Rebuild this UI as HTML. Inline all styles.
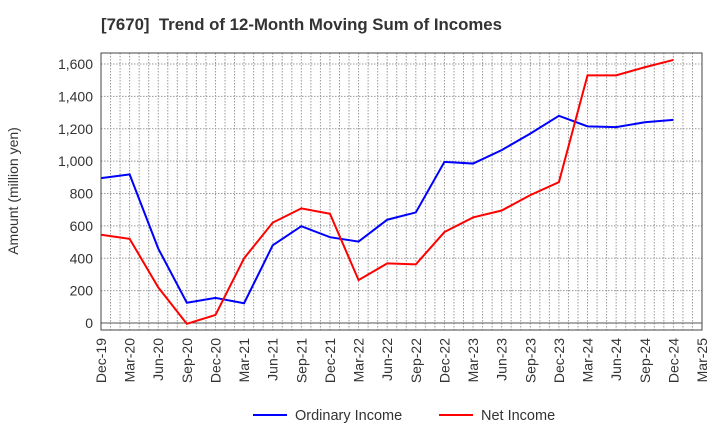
<!DOCTYPE html>
<html><head><meta charset="utf-8"><style>
body{margin:0;background:#fff;font-family:"Liberation Sans",sans-serif}
</style></head><body>
<svg id="c" width="720" height="440" xmlns="http://www.w3.org/2000/svg" font-family="Liberation Sans, sans-serif">
<text x="101" y="30" font-size="16.8" font-weight="bold" fill="#333">[7670]&#160; Trend of 12-Month Moving Sum of Incomes</text>
<text transform="translate(18,191) rotate(-90)" text-anchor="middle" font-size="14" fill="#333">Amount (million yen)</text>
<g id="grid"></g><g id="series"></g><g id="axes"></g>
<g>
<line x1="253" y1="415" x2="287" y2="415" stroke="#0000ff" stroke-width="2"/>
<text x="295" y="420" font-size="14.5" fill="#333">Ordinary Income</text>
<line x1="439" y1="415" x2="473" y2="415" stroke="#ff0000" stroke-width="2"/>
<text x="481" y="420" font-size="14.5" fill="#333">Net Income</text>
</g>
</svg>
<script>
const categories=["Dec-19","Mar-20","Jun-20","Sep-20","Dec-20","Mar-21","Jun-21","Sep-21","Dec-21","Mar-22","Jun-22","Sep-22","Dec-22","Mar-23","Jun-23","Sep-23","Dec-23","Mar-24","Jun-24","Sep-24","Dec-24","Mar-25"];
const ordinaryIncome=[895,918,460,125,155,122,480,598,530,503,638,683,995,985,1068,1170,1280,1215,1210,1240,1255];
const netIncome=[545,520,220,-5,50,400,620,708,675,265,368,362,562,652,695,790,870,1530,1530,1580,1625];
const yTicks=[0,200,400,600,800,1000,1200,1400,1600];
const yTickLabels=["0","200","400","600","800","1,000","1,200","1,400","1,600"];
const L=101,R=702,T=53,B=330;
const x=i=>L+i*(R-L)/(categories.length-1);
const y=v=>323-v*(259/1600);
const NS="http://www.w3.org/2000/svg";
function mk(tag,attrs,parent){const e=document.createElementNS(NS,tag);for(const k in attrs)e.setAttribute(k,attrs[k]);parent.appendChild(e);return e;}
const grid=document.getElementById('grid'),axes=document.getElementById('axes'),ser=document.getElementById('series');
for(let m=1;m<(categories.length-1)*3;m++){const xx=L+m*(R-L)/((categories.length-1)*3);
 const g=mk('line',{x1:xx,y1:T,x2:xx,y2:B,stroke:'#999','stroke-dasharray':'1.5,1.5','stroke-width':1},grid);
 
 }
yTicks.forEach((v,i)=>{const yy=y(v);
 const g=mk('line',{x1:L,y1:yy,x2:R,y2:yy,stroke:v===0?'#555':'#999','stroke-dasharray':v===0?'':'1.5,1.5','stroke-width':1},grid);
 
 
 const t=mk('text',{x:L-8,y:yy+5,'text-anchor':'end','font-size':14,fill:'#333'},axes);t.textContent=yTickLabels[i];
 
 });
const fr=mk('rect',{x:L,y:T,width:R-L,height:B-T,fill:'none',stroke:'#444','stroke-width':1},axes);


categories.forEach((c,i)=>{const t=mk('text',{transform:`translate(${x(i)+5},${B+8}) rotate(-90)`,'text-anchor':'end','font-size':14,fill:'#333'},axes);t.textContent=c;
 
 });
function line(d,col,name){const p=mk('polyline',{points:d.map((v,i)=>x(i)+','+y(v)).join(' '),fill:'none',stroke:col,'stroke-width':2},ser);
 
 }
line(ordinaryIncome,'#0000ff','ordinary-income-line');
line(netIncome,'#ff0000','net-income-line');
</script>
</body></html>
